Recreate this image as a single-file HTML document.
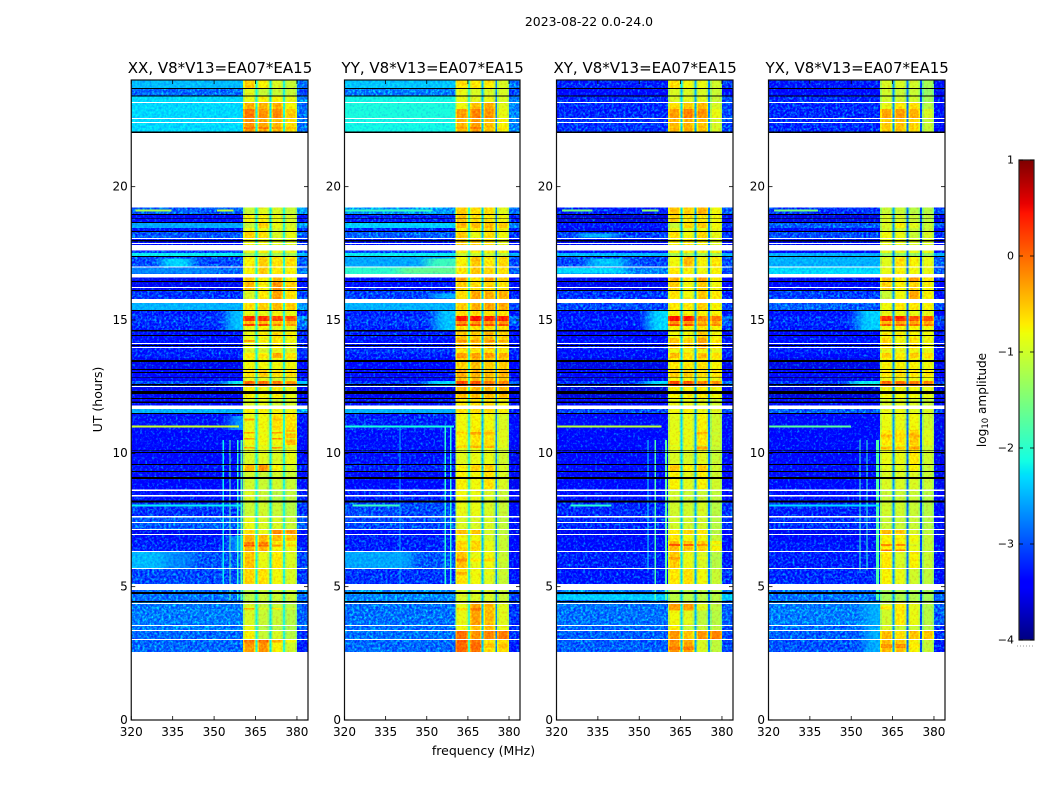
<!DOCTYPE html>
<html>
<head>
<meta charset="utf-8">
<title>2023-08-22 0.0-24.0</title>
<style>
html,body{margin:0;padding:0;background:#fff;width:1050px;height:800px;overflow:hidden}
svg{display:block}
text{font-family:"DejaVu Sans","Liberation Sans",sans-serif;fill:#000}
</style>
</head>
<body>
<svg id="chart" xmlns="http://www.w3.org/2000/svg" width="1050" height="800" viewBox="0 0 1050 800">
  <defs>
    <filter id="speckle" filterUnits="userSpaceOnUse" x="0" y="0" width="1050" height="800" color-interpolation-filters="sRGB">
      <feTurbulence type="fractalNoise" baseFrequency="0.42" numOctaves="2" seed="4" result="n"/>
      <feColorMatrix in="n" type="matrix" values="0 0 0 0 .16  1.4 0 0 0 -.55  0 0 0 0 .16  0 0 0 0 1" result="g"/>
      <feComposite in="SourceGraphic" in2="g" operator="arithmetic" k1="0" k2="1" k3="1" k4="-.16" result="m"/>
      <feComposite in="m" in2="SourceAlpha" operator="in"/>
    </filter>
    <filter id="speckle-calm" filterUnits="userSpaceOnUse" x="0" y="0" width="1050" height="800" color-interpolation-filters="sRGB">
      <feTurbulence type="fractalNoise" baseFrequency="0.42" numOctaves="2" seed="9" result="n"/>
      <feColorMatrix in="n" type="matrix" values="0 0 0 0 .16  .5 0 0 0 -.1  0 0 0 0 .16  0 0 0 0 1" result="g"/>
      <feComposite in="SourceGraphic" in2="g" operator="arithmetic" k1="0" k2="1" k3="1" k4="-.16" result="m"/>
      <feComposite in="m" in2="SourceAlpha" operator="in"/>
    </filter>
    <filter id="soft-glow" filterUnits="userSpaceOnUse" x="0" y="0" width="1050" height="800" color-interpolation-filters="sRGB">
      <feGaussianBlur in="SourceGraphic" stdDeviation="6 0.3"/>
    </filter>
  </defs>
  <text x="589" y="26" text-anchor="middle" font-size="12.45">2023-08-22 0.0-24.0</text>
  <text transform="translate(102 399.5) rotate(-90)" text-anchor="middle" font-size="12.5">UT (hours)</text>
  <text x="483.5" y="755" text-anchor="middle" font-size="12.5">frequency (MHz)</text>
  <text transform="translate(986 400) rotate(-90)" text-anchor="middle" font-size="12.1">log<tspan font-size="8.5" dy="2">10</tspan><tspan dy="-2"> amplitude</tspan></text>
</svg>
<script>
// ---- Axis data ----
const panelTitles = ["XX, V8*V13=EA07*EA15", "YY, V8*V13=EA07*EA15", "XY, V8*V13=EA07*EA15", "YX, V8*V13=EA07*EA15"];
const freqTicks = [320, 335, 350, 365, 380];
const utTicks = [0, 5, 10, 15, 20];
const colorTicks = [-4, -3, -2, -1, 0, 1];

// UT edges of the observed time blocks (hours), newest first
const spanEdges = [24,23.7,23.4,23.14,22.91,22.58,19.22,18.96,18.68,18.45,18.3,18.08,17.59,17.51,17.4,16.99,16.61,16.46,16.13,15.64,15.38,15.15,14.96,14.85,14.78,14.59,14.33,13.91,13.76,13.58,13.16,12.86,12.71,12.53,12.08,11.66,11.51,10.88,10.31,9.6,9.34,8.66,8.21,7.65,7.16,6.98,6.71,6.34,5.7,4.88,4.46,3.56,3.38,3.04,2.55];

// Flagged time ranges shared by all products [utHigh, utLow]
const blankRows = [[23.17,23.13],[22.57,22.53],[22.43,22.39],[22.05,19.22],[18.08,18.04],[17.89,17.85],[17.81,17.6],[17,16.97],[16.73,16.6],[16.24,16.2],[15.79,15.63],[14.14,14.1],[13.99,13.95],[12.53,12.49],[11.79,11.66],[8.65,8.59],[8.43,8.39],[7.65,7.59],[7.43,7.39],[7.16,7.13],[6.98,6.94],[6.34,6.3],[5.7,5.66],[5.1,4.88],[4.39,4.35],[3.56,3.53],[3.38,3.34],[3.04,3]];
const zeroRows = [[23.7,23.66],[23.42,23.38],[22.06,22.02],[18.98,18.94],[18.83,18.8],[18.68,18.64],[18.34,18.3],[18,17.94],[17.4,17.36],[16.47,16.42],[16.13,16.09],[15.38,15.34],[14.63,14.57],[14.44,14.4],[14.06,14.03],[13.5,13.43],[13.16,13.13],[13.05,13.01],[12.87,12.84],[12.6,12.54],[12.34,12.23],[12.08,12.04],[11.94,11.89],[11.51,11.48],[10.11,10.08],[10.05,10.01],[9.6,9.56],[9.34,9.3],[9.12,9.04],[8.23,8.16],[4.8,4.73],[4.46,4.41]];

// ---- XX: log10 amplitude per time block ----
const xxBackground = [-2.45,-2.85,-2.3,-2.3,-2.3,-2.3,-2.9,-3.4,-2.55,-3.3,-2.95,-3.35,-3,-2.2,-3,-2.85,-3.5,-3.5,-3.1,-2.5,-3.2,-3.1,-3.1,-3.1,-3.2,-3.3,-3.3,-3.2,-3.2,-3.5,-3.4,-3.45,-3,-3.5,-3.4,-2.5,-3.3,-3.35,-3.4,-3.3,-3.4,-3.3,-3.1,-2.9,-3.5,-3.25,-3.2,-2.95,-3,-2.8,-2.75,-2.75,-2.85,-2.85];
const xxRight = [-2.8,-3,-2.7,-2.8,-2.8,-2.8,-2.6,-3.3,-2.6,-3.2,-2.9,-3.2,-3,-2.4,-2.9,-2.8,-3.4,-3.3,-3,-2.6,-3.2,-2.6,-2.8,-2.7,-3,-3.2,-3.2,-3.1,-3.1,-3.4,-3.3,-3.3,-2.4,-3.4,-3.3,-2.6,-3.3,-3.3,-3.4,-3.2,-3.3,-3.2,-3.1,-2.9,-3.3,-3.3,-3.2,-3,-3.1,-2.8,-2.9,-2.9,-3.1,-3.2];
const xxBands = [[-.6,-.8,-1,-1.1],[-.95,-1.1,-1.1,-1.1],[-.9,-.8,-.8,-.9],[-.45,-.45,-.45,-.8],[-.15,-.3,-.25,-.6],[-.3,-.4,-.5,-.7],[-1.1,-.95,-1,-1.1],[-.8,-.8,-.9,-1],[-1.1,-.6,-.9,-1],[-.9,-.9,-1,-.95],[-.6,-.7,-1,-.9],[-.85,-.85,-.95,-.95],[-.9,-.8,-.9,-.9],[-1.3,-1.2,-1.3,-1.3],[-.8,-.6,-.7,-.7],[-.8,-.6,-.75,-.8],[-.6,-.8,-.5,-.8],[-.5,-.8,-.3,-.6],[-1,-.75,-.35,-.7],[-.7,-.6,-.5,-.6],[-.9,-.9,-.85,-.9],[.25,.25,.1,.05],[-.5,-.5,-.5,-.5],[.15,.1,-.2,-.3],[-.9,-.8,-.9,-.9],[-.9,-.8,-.7,-.8],[-.85,-.9,-.75,-.9],[-1,-1,-.9,-1],[-.75,-.75,-.4,-.7],[-.85,-.85,-.85,-.85],[-.7,-.6,-.7,-.7],[-.9,-.9,-1,-.9],[-.05,-.05,-.15,-.25],[-.8,-.85,-.8,-.9],[-1,-.9,-1.05,-1],[-.8,-.8,-.85,-.9],[-.9,-.85,-.7,-.7],[-.85,-.85,-.85,-.5],[-1,-.95,-1,-.9],[-.5,-.3,-.8,-1],[-1.05,-1.1,-1.05,-1.1],[-1,-1.1,-1.2,-1.15],[-1.1,-1.05,-1.1,-1.2],[-.9,-1,-1,-1.1],[-.7,-.9,-.25,-.35],[-.45,-.5,-.5,-.55],[-.45,-.45,-.8,-.9],[-.55,-.9,-.75,-1],[-.65,-.7,-.85,-1],[-1.2,-1.1,-1.1,-1.1],[-1,-1.1,-1.1,-1.2],[-.9,-1.2,-1.2,-1.25],[-.8,-1.1,-1,-1.2],[-.35,-.3,-.8,-1.05]];
const xxGaps = [-2.1,-2.2,-2.0];
// [freqLow, freqHigh, utHigh, utLow, level]: thin RFI lines and streaks
const xxFeatures = [[321.5,334.6,19.14,19.06,-1.2],[351,357,19.14,19.06,-1.1],[320,359,11.04,10.96,-1],[353,353.5,10.5,5,-2.2],[355.5,356,10.5,4.5,-1.7],[358.3,358.8,10.5,4.5,-2],[359.5,360.2,10.5,4.5,-1.8],[320,360,8.08,8,-2.2]];
// Broad diffuse emission regions
const xxGlows = [[331,342,17.3,17,-2.3],[312,350,16.95,16.75,-2.7],[354.5,365,15.38,14.6,-2.4],[354.5,365,12.71,12.53,-2.2],[356,365,11.4,10.88,-2.6],[312,332,6.3,5.7,-2.45],[332,342,6.3,5.7,-2.7],[356,365,6.9,6.34,-2.5]];
// Bright rows inside the sub-bands: [utHigh, utLow, A, B, C, D]
const xxStripes = [[22.24,22.16,-.1,-.1,-.3,-.5],[14.25,14.17,-.3,-.7,-.7,-.8],[10.8,10.74,-.3,-.85,-.3,-.9],[10.58,10.52,-.3,-.8,-.3,-.9],[10.24,10.18,-.35,-.8,-.3,-1],[6.58,6.5,.05,0,-.3,-.5],[6.65,6.61,.1,.05,-.6,-.7],[11.3,11.24,-.4,-.8,-.5,-.7],[4.2,4.15,-.35,-.9,-.7,-1],[3,2.9,-.1,-.05,-.4,-.8]];

// ---- YY ----
const yyBackground = [-2.4,-2.75,-2.15,-2.1,-2.1,-2.15,-2.6,-3.2,-2.35,-3.2,-2.9,-3.3,-3,-2.2,-2.55,-2,-3.3,-3.3,-3.05,-2.5,-3.2,-3.1,-3.1,-3.1,-3.2,-3.2,-3.3,-3.1,-3.2,-3.4,-3.3,-3.4,-3.1,-3.5,-3.3,-2.5,-3.2,-3.3,-3.3,-3.2,-3.4,-3.2,-3,-3,-3.4,-3.2,-3.2,-2.95,-3.1,-2.7,-2.8,-2.8,-2.8,-2.85];
const yyRight = [-2.8,-3,-2.7,-2.7,-2.7,-2.7,-2.8,-3.2,-2.7,-3.2,-3.1,-3.3,-3.2,-2.5,-3,-2.9,-3.4,-3.3,-3.2,-3,-3.3,-2.8,-2.9,-2.9,-3.2,-3.3,-3.3,-3.2,-3.2,-3.4,-3.4,-3.4,-2.8,-3.5,-3.4,-3.2,-3.4,-3.4,-3.5,-3.4,-3.5,-3.4,-3.4,-3.3,-3.5,-3.4,-3.4,-3.3,-3.3,-3,-3.1,-3.1,-3.1,-3.2];
const yyBands = [[-.7,-.75,-.75,-1],[-.9,-1,-1,-1],[-.9,-.95,-.9,-1],[-.85,-.5,-.4,-.95],[-.35,-.2,-.3,-.9],[-.5,-.35,-.5,-.8],[-.6,-.7,-.7,-.95],[-.55,-.7,-.75,-.85],[-.5,-.5,-.5,-.55],[-.8,-.75,-.6,-.85],[-.6,-.9,-.7,-.85],[-.6,-.6,-.7,-.9],[-.8,-.8,-.8,-.8],[-1.1,-1.1,-1.1,-1.2],[-.8,-.55,-.75,-.65],[-.75,-.55,-.65,-.7],[-.4,-.7,-.4,-.6],[-.6,-.7,-.65,-.75],[-.7,-.4,-.45,-.45],[-.6,-.45,-.4,-.4],[-.7,-.7,-.7,-.7],[.4,.4,.3,.3],[-.3,-.3,-.3,-.3],[.1,.1,.1,.1],[-.7,-.7,-.7,-.7],[-.55,-.6,-.5,-.6],[-.5,-.55,-.5,-.65],[-.75,-.75,-.75,-.8],[-.35,-.35,-.35,-.45],[-.6,-.5,-.6,-.6],[-.4,-.45,-.5,-.45],[-.55,-.5,-.5,-.55],[.1,.05,-.15,-.2],[-.5,-.5,-.5,-.5],[-.75,-.7,-.7,-.85],[-.7,-.7,-.7,-.8],[-.85,-.8,-.85,-1],[-.8,-.7,-.7,-.95],[-.95,-.9,-.9,-1.05],[-.8,-.65,-.6,-1],[-.8,-.85,-.7,-1],[-.85,-.9,-1,-1.1],[-.9,-.9,-1,-1.1],[-1,-1,-1,-1.15],[-.5,-.55,-1,-1.15],[-.85,-.85,-1,-1.1],[-.65,-.65,-.9,-1.1],[-.55,-.9,-.85,-1.1],[-.7,-.85,-.95,-1.1],[-1,-1,-1,-1.1],[-.9,-.35,-.5,-.95],[-.85,-.55,-.5,-.9],[-.1,-.3,-.2,-.15],[-.05,-.1,-.7,-.65]];
const yyGaps = [-1.9,-2.4,-2.7];
const yyFeatures = [[320,360,11.04,10.96,-2.1],[320,352,19.14,19.06,-1.9],[323,340,8.08,8,-1.9],[340,340.4,11,5,-2.5],[356.5,357,11,5,-2],[358.5,359,11,5,-2]];
const yyGlows = [[350,365,17.3,17,-1.9],[312,340,16.95,16.75,-2],[340,365,16.95,16.75,-1.65],[312,345,6.3,5.7,-2.55],[353,365,15.38,14.6,-2.4],[350,365,12.71,12.53,-2.3],[352,365,16,15.8,-2.5]];
const yyStripes = [[22.24,22.16,-.3,-.1,-.5,-.7],[14.25,14.17,-.2,-.3,-.25,-.4],[10.8,10.7,-.6,-.3,-.45,-.9],[10.3,10.2,-.6,-.4,-.4,-.9],[6.05,5.95,-.2,-.7,-.6,-1],[5.55,5.45,-.4,-.8,-.8,-1],[4.2,4.1,-.6,-.1,-.5,-.9],[2.85,2.7,0,-.05,-.5,-.5]];

// ---- XY ----
const xyBackground = [-3.2,-3.45,-3.15,-3.15,-3.15,-3.1,-3.2,-3.6,-3.25,-3.5,-3.05,-3.5,-3.3,-2.45,-3,-2.7,-3.5,-3.5,-3.1,-3,-3.3,-3.2,-3.2,-3.2,-3.3,-3.4,-3.3,-3.3,-3.3,-3.55,-3.4,-3.5,-3.1,-3.6,-3.4,-3,-3.4,-3.45,-3.4,-3.4,-3.45,-3.3,-3.15,-3.15,-3.5,-3.35,-3.3,-3.2,-3.25,-2.75,-2.8,-2.85,-2.9,-2.9];
const xyRight = [-3.1,-3.4,-3,-3,-3,-3,-2.9,-3.5,-3.1,-3.4,-3.1,-3.4,-3.2,-2.5,-3,-3,-3.4,-3.4,-3.2,-3,-3.2,-2.8,-2.9,-2.9,-3.1,-3.3,-3.3,-3.2,-3.2,-3.5,-3.4,-3.4,-2.8,-3.5,-3.4,-3,-3.3,-3.4,-3.4,-3.4,-3.4,-3.3,-3.1,-3.1,-3.4,-3.3,-3.3,-3.2,-3.1,-2.7,-2.9,-3,-3,-3];
const xyBands = [[-.7,-.85,-.9,-1.05],[-1,-1,-1,-1.1],[-1,-.95,-.95,-1.1],[-.7,-.55,-.5,-1],[-.35,-.2,-.3,-.9],[-.5,-.45,-.55,-1],[-.55,-.6,-.45,-.85],[-.65,-.75,-.75,-.85],[-1.1,-.65,-.6,-.85],[-.95,-.95,-.9,-.9],[-.7,-.85,-.65,-.9],[-.8,-.75,-.8,-.95],[-.8,-.8,-.8,-.8],[-1.3,-1.3,-1.3,-1.3],[-.85,-.5,-.8,-.75],[-.75,-.8,-.85,-.8],[-.45,-.75,-.35,-.8],[-.6,-.85,-.6,-.85],[-.75,-.85,-.55,-.75],[-.75,-.75,-.6,-.8],[-.8,-.8,-.8,-.8],[.4,.35,-.2,-.15],[-.3,-.3,-.45,-.4],[.15,.1,-.25,-.25],[-.8,-.8,-.75,-.8],[-.85,-.85,-.6,-.85],[-.55,-.65,-.4,-.75],[-.85,-.85,-.85,-.9],[-.5,-.7,-.5,-.7],[-.75,-.75,-.7,-.8],[-.6,-.6,-.7,-.7],[-.8,-.8,-.85,-.85],[.1,.05,-.2,-.25],[-.8,-.8,-.75,-.85],[-.9,-.9,-.95,-1.05],[-.85,-.8,-.9,-.95],[-.95,-.9,-.8,-1.05],[-.9,-.9,-.75,-1.05],[-1,-1,-.95,-1.1],[-.6,-.8,-.6,-1.05],[-.8,-.95,-.8,-1.05],[-1.05,-1.1,-1.1,-1.15],[-1.05,-1.05,-1,-1.2],[-1.05,-1.05,-1.05,-1.2],[-.75,-.65,-.75,-1.2],[-.75,-.85,-.85,-1.1],[-.5,-.55,-.6,-.8],[-.6,-.9,-1,-1.2],[-.75,-.7,-.85,-1.1],[-1.2,-1.2,-1.2,-1.2],[-.85,-.95,-1.15,-1.2],[-.8,-1.1,-1.1,-1.15],[-.3,-.55,-.3,-.2],[-.3,-.4,-1,-1.15]];
const xyGaps = [-2.3,-2.5,-2.7];
const xyFeatures = [[320,358,11.04,10.96,-1.1],[322,333,19.14,19.06,-1.5],[351,357,19.14,19.06,-1.4],[325,340,8.08,8,-2],[353,353.4,10.5,5.6,-2.2],[355.5,356,10.5,4.5,-1.8],[359.3,360,10.5,4.5,-1.7]];
const xyGlows = [[312,345,16.95,16.75,-2.3],[332,345,17.3,17,-2.4],[328,342,18.25,18.1,-2.5],[353,365,15.38,14.6,-2.3],[352,365,12.71,12.53,-2.3],[312,392,4.7,4.5,-2.35]];
const xyStripes = [[6.6,6.52,.1,.05,-.25,-.9],[6.12,6.02,-.3,-.85,-.85,-1.2],[4.35,4.1,-.3,-.3,-.9,-1.1],[2.75,2.62,-.1,-.1,-.95,-1.1],[10.8,10.7,-.85,-.85,-.4,-1.05],[10.25,10.15,-.85,-.85,-.3,-1.05]];

// ---- YX ----
const yxBackground = [-3.25,-3.45,-3.15,-3.15,-3.15,-3.15,-3.1,-3.55,-2.9,-3.45,-3,-3.5,-3.4,-2.5,-2.5,-2.3,-3.5,-3.45,-3.05,-2.9,-3.3,-3.15,-3.15,-3.15,-3.25,-3.35,-3.3,-3.2,-3.3,-3.55,-3.4,-3.5,-3.1,-3.6,-3.4,-2.9,-3.4,-3.45,-3.4,-3.35,-3.45,-3.3,-3.2,-3.1,-3.5,-3.35,-3.25,-3.2,-3.15,-2.8,-2.75,-2.85,-2.9,-2.95];
const yxRight = [-3.3,-3.5,-3.3,-3.3,-3.3,-3.3,-3,-3.5,-2.9,-3.4,-3.1,-3.4,-3.3,-2.5,-2.9,-2.9,-3.4,-3.4,-3.3,-3,-3.4,-3,-3,-3,-3.3,-3.4,-3.3,-3.3,-3.3,-3.5,-3.4,-3.4,-3,-3.5,-3.4,-3,-3.5,-3.5,-3.5,-3.4,-3.5,-3.4,-3.4,-3.3,-3.5,-3.4,-3.4,-3.3,-3.3,-2.9,-2.9,-3.1,-3.1,-3.2];
const yxBands = [[-1,-1,-1.05,-1.3],[-1.05,-1.1,-1.1,-1.4],[-1.05,-1.05,-1.05,-1.3],[-.9,-.7,-.7,-1.2],[-.4,-.35,-.45,-1],[-.6,-.55,-.65,-1.1],[-1.1,-1.1,-1.2,-1.2],[-1,-1,-1.1,-1.15],[-1,-.8,-.95,-1.1],[-1.05,-1.05,-1.1,-1.1],[-.85,-.9,-1.1,-1],[-.9,-.9,-1,-1],[-.9,-.9,-.9,-.9],[-1.4,-1.4,-1.4,-1.4],[-.95,-.7,-.8,-.9],[-.9,-.8,-.85,-.9],[-.55,-.75,-.3,-.7],[-.65,-.8,-.65,-.8],[-1.1,-.85,-.4,-.8],[-.85,-.75,-.75,-.8],[-.9,-.9,-.9,-.9],[.2,.3,.05,.05],[-.45,-.4,-.4,-.4],[0,0,-.1,-.1],[-.85,-.8,-.8,-.85],[-.8,-.8,-.8,-.85],[-.65,-.85,-.7,-.85],[-.9,-.9,-.85,-.9],[-.6,-.75,-.6,-.7],[-.8,-.8,-.8,-.85],[-.75,-.7,-.75,-.75],[-.85,-.85,-.85,-.85],[-.05,-.05,-.15,-.2],[-.85,-.85,-.85,-.9],[-1,-.95,-1,-1.1],[-.9,-.9,-.95,-1],[-.9,-.9,-.85,-1.05],[-.75,-.75,-.6,-.95],[-.9,-.9,-.75,-1.05],[-.95,-.95,-.8,-1.1],[-1,-1,-1,-1.1],[-1.1,-1.1,-1.1,-1.2],[-1.05,-1.05,-1.1,-1.2],[-1.1,-1.1,-1.1,-1.2],[-.5,-.6,-1,-1.15],[-.8,-.8,-.85,-1.1],[-.75,-.75,-.9,-1.1],[-.75,-1,-.8,-1.1],[-.8,-.9,-1.05,-1.15],[-1.3,-1.25,-1.25,-1.3],[-1.05,-.75,-.9,-1.2],[-1,-1.1,-1.1,-1.2],[-.5,-.7,-.55,-.55],[-.5,-.55,-.8,-1.1]];
const yxGaps = [-2.6,-2.8,-3.0];
const yxFeatures = [[320,350,11.04,10.96,-1.7],[322,338,19.14,19.06,-1.5],[353,353.4,10.5,5.6,-1.9],[355.5,355.9,10.5,5.6,-2],[359,360,10.5,4.5,-1.8],[320,360,8.08,8,-2.3]];
const yxGlows = [[352,365,15.38,14.6,-2.35],[350,365,12.71,12.53,-2.2],[355,365,4.4,2.55,-2.5]];
const yxStripes = [[6.6,6.52,-.2,-.2,-.95,-1.1],[6.4,6.34,-.15,-.2,-.9,-1.1],[10.7,10.6,-.45,-.6,-.4,-.95],[10.25,10.15,-.5,-.55,-.3,-1],[4.3,4.15,-.7,-.7,-.9,-1.2],[2.85,2.7,-.25,-.2,-.7,-1.1]];

// Product table and the shared frequency layout of the four sub-bands (MHz)
const products = [
  {key:'xx', left:131.25, right:308, back:xxBackground, side:xxRight, bands:xxBands, gaps:xxGaps, features:xxFeatures, glows:xxGlows, stripes:xxStripes},
  {key:'yy', left:344.5, right:520, back:yyBackground, side:yyRight, bands:yyBands, gaps:yyGaps, features:yyFeatures, glows:yyGlows, stripes:yyStripes},
  {key:'xy', left:556.5, right:733, back:xyBackground, side:xyRight, bands:xyBands, gaps:xyGaps, features:xyFeatures, glows:xyGlows, stripes:xyStripes},
  {key:'yx', left:768.5, right:945, back:yxBackground, side:yxRight, bands:yxBands, gaps:yxGaps, features:yxFeatures, glows:yxGlows, stripes:yxStripes}
];
const subBandLow = [360.5, 365.7, 370.7, 375.7];
const subBandHigh = [365, 370, 375, 380];
const bandEdgeDrop = -0.25;
const bandEdgeWidth = 0.6;
const bandCentreLift = 0.06;
const calmThreshold = -2.6;

// ---- Scales ----
const FREQ_MIN = 320, FREQ_MAX = 384, UT_MAX = 24, LEVEL_MIN = -4, LEVEL_MAX = 1;
const PLOT_TOP = 80, PLOT_BOTTOM = 720, CBAR_TOP = 160, CBAR_BOTTOM = 640, CBAR_LEFT = 1019, CBAR_RIGHT = 1034;
function xScale(p, f) { return p.left + (f - FREQ_MIN) / (FREQ_MAX - FREQ_MIN) * (p.right - p.left); }
function yScale(ut) { return PLOT_BOTTOM - ut / UT_MAX * (PLOT_BOTTOM - PLOT_TOP); }
function levelScale(v) { return CBAR_BOTTOM - (v - LEVEL_MIN) / (LEVEL_MAX - LEVEL_MIN) * (CBAR_BOTTOM - CBAR_TOP); }
function ramp(t, stops) {
  for (let i = 1; i < stops.length; i++) {
    if (t <= stops[i][0]) {
      const a = stops[i - 1], b = stops[i];
      return a[1] + (b[1] - a[1]) * (t - a[0]) / (b[0] - a[0]);
    }
  }
  return stops[stops.length - 1][1];
}
const jetRed = [[0,0],[.35,0],[.66,1],[.89,1],[1,.5]];
const jetGreen = [[0,0],[.125,0],[.375,1],[.64,1],[.91,0],[1,0]];
const jetBlue = [[0,.5],[.11,1],[.34,1],[.65,0],[1,0]];
function jet(v) {
  const t = Math.max(0, Math.min(1, (v - LEVEL_MIN) / (LEVEL_MAX - LEVEL_MIN)));
  return 'rgb(' + Math.round(255 * ramp(t, jetRed)) + ',' + Math.round(255 * ramp(t, jetGreen)) + ',' + Math.round(255 * ramp(t, jetBlue)) + ')';
}

// ---- Drawing helpers ----
const NS = 'http://www.w3.org/2000/svg';
const chart = document.getElementById('chart');
function make(tag, parent, props) {
  const el = document.createElementNS(NS, tag);
  for (const k in props) el.setAttribute(k, props[k]);
  parent.appendChild(el);
  return el;
}
function cell(parent, p, f0, f1, ut0, ut1, fill, name) {
  const y0 = yScale(ut0), y1 = yScale(ut1);
  const el = make('rect', parent, {x: xScale(p, f0), y: y0, width: xScale(p, f1) - xScale(p, f0), height: y1 - y0, fill: fill, 'shape-rendering': 'crispEdges'});
  
  
  return el;
}

// ---- Panels ----
products.forEach(function (p, idx) {
  const panel = make('g', chart, {});
  
  

  const clip = make('clipPath', chart, {id: p.key + '-clip'});
  make('rect', clip, {x: p.left, y: PLOT_TOP, width: p.right - p.left, height: PLOT_BOTTOM - PLOT_TOP});

  const heat = make('g', panel, {'clip-path': 'url(#' + p.key + '-clip)'});
  
  

  // Everything in the background wrap is composited first, then lightly speckled.
  const backWrap = make('g', heat, {filter: 'url(#speckle-calm)'});
  
  
  const calm = make('g', backWrap, {});
  
  
  const noisy = make('g', backWrap, {filter: 'url(#speckle)'});
  
  
  const glow = make('g', backWrap, {filter: 'url(#soft-glow)'});
  
  
  const clean = make('g', heat, {filter: 'url(#speckle-calm)'});
  
  
  const lines = make('g', heat, {});
  
  

  for (let i = 0; i < spanEdges.length - 1; i++) {
    const hi = spanEdges[i], lo = spanEdges[i + 1];
    cell(p.back[i] > calmThreshold ? calm : noisy, p, FREQ_MIN, subBandLow[0], hi, lo, jet(p.back[i]), p.key + '-background-cell');
    cell(p.side[i] > calmThreshold ? calm : noisy, p, subBandHigh[3], FREQ_MAX, hi, lo, jet(p.side[i]), p.key + '-edge-cell');
    for (let b = 0; b < 4; b++) {
      const lv = p.bands[i][b], f0 = subBandLow[b], f1 = subBandHigh[b];
      cell(clean, p, f0, f1, hi, lo, jet(lv + bandEdgeDrop), p.key + '-subband-edge-cell');
      cell(clean, p, f0 + bandEdgeWidth, f1 - bandEdgeWidth, hi, lo, jet(lv + bandCentreLift), p.key + '-subband-cell');
      if (b < 3) cell(clean, p, f1, subBandLow[b + 1], hi, lo, jet(p.gaps[b]), p.key + '-subband-gap-cell');
    }
  }
  p.stripes.forEach(function (s) {
    for (let b = 0; b < 4; b++) {
      cell(clean, p, subBandLow[b] + bandEdgeWidth / 2, subBandHigh[b] - bandEdgeWidth / 2, s[0], s[1], jet(s[2 + b]), p.key + '-subband-stripe');
    }
  });
  p.glows.forEach(function (g) {
    cell(glow, p, g[0], g[1], g[2], g[3], jet(g[4]), p.key + '-diffuse-region');
  });
  p.features.forEach(function (f) {
    cell(lines, p, f[0], f[1], f[2], f[3], jet(f[4]), p.key + '-rfi-feature');
  });
  blankRows.forEach(function (r) {
    cell(panel, p, FREQ_MIN, FREQ_MAX, r[0], r[1], '#fff', p.key + '-flagged-row');
  });
  zeroRows.forEach(function (r) {
    cell(panel, p, FREQ_MIN, FREQ_MAX, r[0], r[1], '#000', p.key + '-zero-row');
  });

  const frame = make('rect', panel, {x: p.left, y: PLOT_TOP, width: p.right - p.left, height: PLOT_BOTTOM - PLOT_TOP, fill: 'none', stroke: '#111', 'stroke-width': 1.2});
  
  

  freqTicks.forEach(function (f) {
    const x = xScale(p, f);
    const t1 = make('line', panel, {x1: x, x2: x, y1: PLOT_BOTTOM, y2: PLOT_BOTTOM - 4, stroke: '#000', 'stroke-width': 0.8});
    
    
    const t2 = make('line', panel, {x1: x, x2: x, y1: PLOT_TOP, y2: PLOT_TOP + 4, stroke: '#000', 'stroke-width': 0.8});
    
    
    const lab = make('text', panel, {x: x, y: 736, 'text-anchor': 'middle', 'font-size': 12});
    lab.textContent = String(f);
    
    
  });
  utTicks.forEach(function (u) {
    const y = yScale(u);
    const t1 = make('line', panel, {x1: p.left, x2: p.left + 4, y1: y, y2: y, stroke: '#000', 'stroke-width': 0.8});
    
    
    const t2 = make('line', panel, {x1: p.right, x2: p.right - 4, y1: y, y2: y, stroke: '#000', 'stroke-width': 0.8});
    
    
    const lab = make('text', panel, {x: p.left - 3.5, y: y + 3.8, 'text-anchor': 'end', 'font-size': 12});
    lab.textContent = String(u);
    
    
  });
  const title = make('text', panel, {x: (p.left + p.right) / 2 + 0.4, y: 73, 'text-anchor': 'middle', 'font-size': 15});
  title.textContent = panelTitles[idx];
  
  
});

// ---- Colorbar ----
const cbar = make('g', chart, {});


const cbarSteps = 240;
for (let i = 0; i < cbarSteps; i++) {
  const v0 = LEVEL_MIN + (LEVEL_MAX - LEVEL_MIN) * i / cbarSteps;
  const v1 = LEVEL_MIN + (LEVEL_MAX - LEVEL_MIN) * (i + 1) / cbarSteps;
  const r = make('rect', cbar, {x: CBAR_LEFT, y: levelScale(v1), width: CBAR_RIGHT - CBAR_LEFT, height: levelScale(v0) - levelScale(v1) + 0.5, fill: jet((v0 + v1) / 2), 'shape-rendering': 'crispEdges'});
  
  
}
const cbarFrame = make('rect', cbar, {x: CBAR_LEFT, y: CBAR_TOP, width: CBAR_RIGHT - CBAR_LEFT, height: CBAR_BOTTOM - CBAR_TOP, fill: 'none', stroke: '#222', 'stroke-width': 1.2});


colorTicks.forEach(function (v) {
  const y = levelScale(v);
  const t1 = make('line', cbar, {x1: CBAR_LEFT, x2: CBAR_LEFT + 4, y1: y, y2: y, stroke: '#000', 'stroke-width': 0.8});
  
  
  const t2 = make('line', cbar, {x1: CBAR_RIGHT, x2: CBAR_RIGHT - 4, y1: y, y2: y, stroke: '#000', 'stroke-width': 0.8});
  
  
  const lab = make('text', cbar, {x: CBAR_LEFT - 5, y: y + 3.4, 'text-anchor': 'end', 'font-size': 11});
  lab.textContent = String(v).replace('-', '\u2212');
  
  
});
const cbarDots = make('line', cbar, {x1: CBAR_LEFT - 2, x2: CBAR_RIGHT, y1: 646, y2: 646, stroke: '#999', 'stroke-width': 1, 'stroke-dasharray': '1 2'});


</script>
</body>
</html>
